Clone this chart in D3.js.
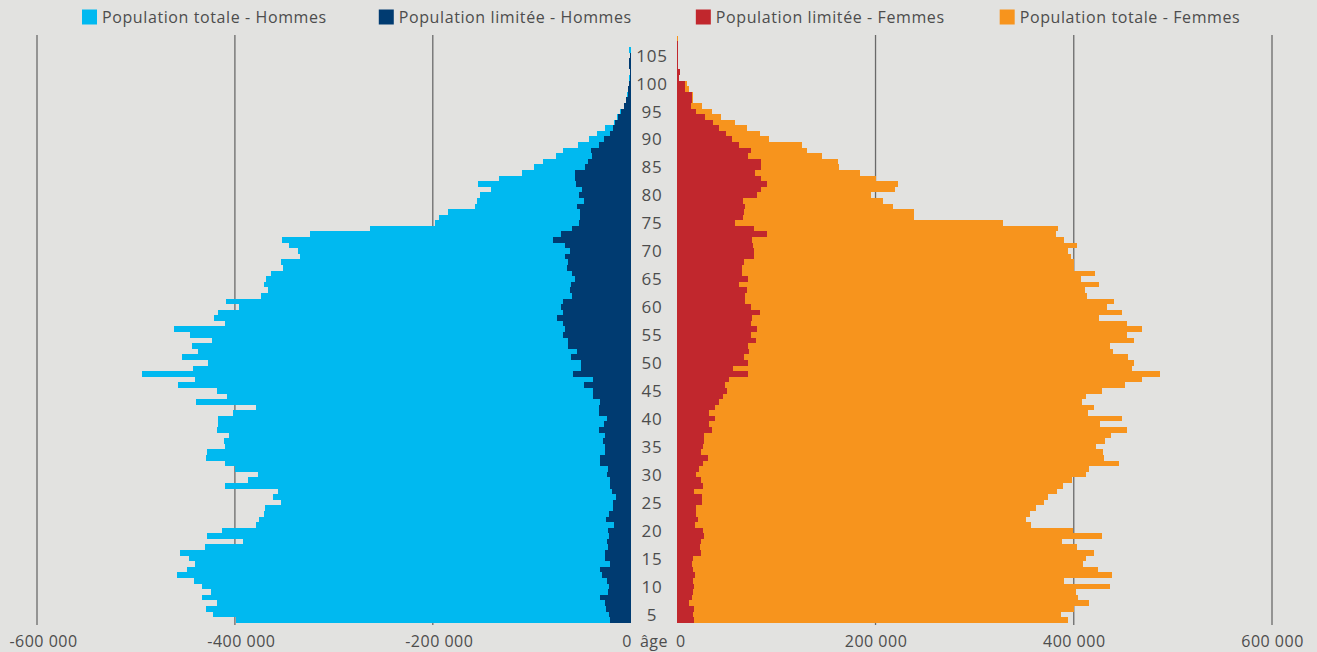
<html>
  <head>
    <title>Pyramide des âges</title>
    <style>
      body { margin: 0; background: #e2e2e0; }
      svg { display: block; }
    </style>
  </head>
  <body>
    <script src="https://cdn.jsdelivr.net/npm/d3@7/dist/d3.min.js"></script>
    <script>
      // Ages (one bar per year)
      var ages = [4, 5, 6, 7, 8, 9, 10, 11, 12, 13, 14, 15, 16, 17, 18, 19, 20, 21, 22, 23, 24, 25, 26, 27, 28, 29,
        30, 31, 32, 33, 34, 35, 36, 37, 38, 39, 40, 41, 42, 43, 44, 45, 46, 47, 48, 49, 50, 51, 52, 53, 54, 55, 56,
        57, 58, 59, 60, 61, 62, 63, 64, 65, 66, 67, 68, 69, 70, 71, 72, 73, 74, 75, 76, 77, 78, 79, 80, 81, 82, 83,
        84, 85, 86, 87, 88, 89, 90, 91, 92, 93, 94, 95, 96, 97, 98, 99, 100, 101, 102, 103, 104, 105, 106, 107, 108];

      // Values in thousands of people
      var totalHommes = [399, 422, 429, 418, 433, 424, 433, 441, 459, 448, 440, 446, 455, 430, 392, 428, 413, 379, 376,
        371, 370, 353, 361, 356, 410, 387, 377, 400, 410, 429, 428, 410, 411, 406, 418, 417, 417, 402, 379, 439, 408,
        418, 457, 440, 494, 442, 427, 453, 437, 443, 423, 445, 462, 410, 421, 417, 396, 409, 374, 367, 371, 369, 364,
        351, 353, 334, 336, 345, 352, 324, 263, 198, 194, 185, 157, 155, 152, 141, 154, 133, 110, 98, 89, 75, 68, 53,
        42, 34, 26, 17, 14, 10.5, 7, 4.5, 3.3, 3, 2.2, 1.5, 1, 1.5, 1.5, 0.6, 1.5, 0, 0];

      var limiteeHommes = [21, 22, 25, 26, 31, 23, 22, 24, 29, 31, 21, 26, 26, 23, 24, 22, 23, 17, 25, 22, 18, 18, 15,
        19, 21, 21, 24, 23, 31, 31, 26, 26, 28, 26, 32, 27, 24, 32, 32, 31, 38, 38, 47, 38, 58, 50, 50, 60, 54, 63, 63,
        68, 66, 68, 74, 68, 70, 68, 59, 61, 60, 56, 59, 64, 63, 66, 61, 66, 79, 70, 59, 52, 51, 51, 54, 47, 52, 49, 55,
        56, 56, 46, 43, 39, 40, 32, 27, 20.5, 18, 16, 12.6, 10, 6.9, 4.3, 3.2, 2.5, 1.5, 1.1, 0.7, 1.4, 1.4, 0.5, 0, 0, 0];

      var limiteeFemmes = [17, 16, 17, 12, 15, 16, 17, 16, 18, 16, 15, 16, 24, 23, 24, 27, 26, 18, 21, 19, 19, 25, 25,
        17, 26, 24, 19, 22, 26, 31, 24, 26, 27, 27, 35, 32, 38, 32, 38, 42, 46, 50, 48, 52, 71, 56, 71, 67, 72, 71, 79,
        74, 80, 74, 75, 83, 74, 68, 68, 70, 62, 71, 65, 65, 67, 77, 77, 76, 75, 90, 77, 58, 66, 67, 68, 66, 80, 84, 90,
        84, 78, 84, 84, 71, 74, 62, 55, 49, 42, 36, 28, 19, 14, 15, 15, 7.8, 7.8, 1.4, 2.7, 0.7, 0.7, 0.5, 0.5, 0.5, 0];

      var totalFemmes = [394, 387, 400, 415, 404, 402, 437, 390, 439, 424, 409, 412, 420, 403, 388, 428, 399, 357, 352,
        356, 362, 370, 374, 383, 389, 398, 412, 415, 446, 430, 429, 422, 432, 438, 454, 426, 449, 414, 420, 408, 412,
        428, 452, 469, 487, 459, 461, 455, 440, 437, 461, 454, 469, 454, 425, 449, 434, 441, 413, 411, 425, 407, 421,
        400, 400, 397, 394, 403, 390, 382, 384, 329, 239, 239, 218, 208, 195, 220, 223, 200, 184, 163, 162, 146, 131,
        126, 93, 83, 70, 58, 44, 35, 25, 15.5, 15.5, 11.8, 9.8, 1.5, 2.8, 0.8, 0.8, 0.8, 0.5, 0.6, 0.8];

      // Axis ticks
      var ageTicks = [5, 10, 15, 20, 25, 30, 35, 40, 45, 50, 55, 60, 65, 70, 75, 80, 85, 90, 95, 100, 105];
      var leftTicks = [-600, -400, -200, 0];
      var rightTicks = [0, 200, 400, 600];

      var legendLabels = [
        'Population totale - Hommes',
        'Population limitée - Hommes',
        'Population limitée - Femmes',
        'Population totale - Femmes'
      ];

      (function() {
        var WIDTH = 1317;
        var HEIGHT = 652;

        // Vertical layout
        var AXIS_Y = 625; // bottom of the grid
        var GRID_TOP = 35;
        var ROW_HEIGHT = 5.589; // px per year

        // Horizontal layout
        var LEFT_MIN = 37, LEFT_ZERO = 630.7;
        var RIGHT_ZERO = 677.3, RIGHT_MAX = 1272;
        var AGE_X = 652;

        var colors = {
          LIGHT_BLUE: '#00b9f0',
          DARK_BLUE: '#003b71',
          RED: '#c1272d',
          ORANGE: '#f7941d',
          GRID: '#6a6a6a',
          TEXT: '#4d4d4d',
          BG: '#e2e2e0'
        };
        var FONT = '"Open Sans", "DejaVu Sans", sans-serif';

        var fr = d3.formatLocale({
          decimal: ',', thousands: ' ', grouping: [3], currency: ['', ' €'], minus: '-'
        });
        var fmt = fr.format(',d');

        var svg = d3.select('body')
          .append('svg')
          .attr('width', WIDTH)
          .attr('height', HEIGHT)
          .style('background', colors.BG);

        // Scales
        var y = d3.scaleLinear()
          .domain([ages[0], ages[ages.length - 1] + 1])
          .range([622.7, 622.7 - ages.length * ROW_HEIGHT]);

        var xLeft = d3.scaleLinear().domain([-600, 0]).range([LEFT_MIN, LEFT_ZERO]);
        var xRight = d3.scaleLinear().domain([0, 600]).range([RIGHT_ZERO, RIGHT_MAX]);

        // Grid lines (behind the bars)
        var grid = svg.append('g').attr('class', 'grid');
        grid.selectAll('line.left')
          .data(leftTicks.filter(function(d) { return d !== 0; }))
          .enter().append('line')
          .attr('class', 'left')
          .attr('x1', function(d) { return xLeft(d); })
          .attr('x2', function(d) { return xLeft(d); })
          .attr('y1', GRID_TOP).attr('y2', AXIS_Y)
          .attr('stroke', colors.GRID)
          .attr('stroke-width', 1.3);
        grid.selectAll('line.right')
          .data(rightTicks.filter(function(d) { return d !== 0; }))
          .enter().append('line')
          .attr('class', 'right')
          .attr('x1', function(d) { return xRight(d); })
          .attr('x2', function(d) { return xRight(d); })
          .attr('y1', GRID_TOP).attr('y2', AXIS_Y)
          .attr('stroke', colors.GRID)
          .attr('stroke-width', 1.3);

        // Bars: totals first, limited population on top
        function leftBars(values, color) {
          svg.append('g')
            .attr('shape-rendering', 'crispEdges')
            .selectAll('rect')
            .data(ages)
            .enter().append('rect')
            .attr('x', function(d, i) { return xLeft(-values[i]); })
            .attr('width', function(d, i) { return xLeft(0) - xLeft(-values[i]); })
            .attr('y', function(d) { return y(d + 1); })
            .attr('height', function(d) { return y(d) - y(d + 1); })
            .attr('fill', color);
        }

        function rightBars(values, color) {
          svg.append('g')
            .attr('shape-rendering', 'crispEdges')
            .selectAll('rect')
            .data(ages)
            .enter().append('rect')
            .attr('x', xRight(0))
            .attr('width', function(d, i) { return xRight(values[i]) - xRight(0); })
            .attr('y', function(d) { return y(d + 1); })
            .attr('height', function(d) { return y(d) - y(d + 1); })
            .attr('fill', color);
        }

        leftBars(totalHommes, colors.LIGHT_BLUE);
        leftBars(limiteeHommes, colors.DARK_BLUE);
        rightBars(totalFemmes, colors.ORANGE);
        rightBars(limiteeFemmes, colors.RED);

        // Bottom axes (labels only)
        function styleAxis(g, size, spacing) {
          g.select('.domain').remove();
          g.selectAll('text')
            .attr('font-family', FONT)
            .attr('font-size', size + 'px')
            .attr('letter-spacing', spacing + 'px')
            .attr('fill', colors.TEXT);
        }

        svg.append('g')
          .attr('transform', 'translate(0,' + AXIS_Y + ')')
          .call(d3.axisBottom(xLeft)
            .tickValues(leftTicks)
            .tickSize(0)
            .tickPadding(11)
            .tickFormat(function(d) { return fmt(d * 1000); }))
          .call(styleAxis, 16, 0.5)
          .selectAll('text')
          .attr('dx', function(d) { return d < 0 ? 6 : -4; });

        svg.append('g')
          .attr('transform', 'translate(0,' + AXIS_Y + ')')
          .call(d3.axisBottom(xRight)
            .tickValues(rightTicks)
            .tickSize(0)
            .tickPadding(11)
            .tickFormat(function(d) { return fmt(d * 1000); }))
          .call(styleAxis, 16, 0.5)
          .selectAll('text')
          .attr('dx', function(d) { return d === 0 ? 3 : 0; });

        // "âge" label between the two zeros
        svg.append('text')
          .text('âge')
          .attr('x', AGE_X + 2)
          .attr('y', AXIS_Y + 11)
          .attr('dy', '0.71em')
          .attr('text-anchor', 'middle')
          .attr('font-family', FONT)
          .attr('font-size', '16px')
          .attr('letter-spacing', '0.5px')
          .attr('fill', colors.TEXT);

        // Age axis in the middle
        svg.append('g')
          .attr('transform', 'translate(' + AGE_X + ',-2.5)')
          .call(d3.axisRight(y).tickValues(ageTicks).tickSize(0).tickPadding(0))
          .call(styleAxis, 17, 0.8)
          .selectAll('text')
          .attr('text-anchor', 'middle');

        // Legend
        var legend = svg.append('g').attr('class', 'legend');
        var legendColors = [colors.LIGHT_BLUE, colors.DARK_BLUE, colors.RED, colors.ORANGE];
        var legendGaps = [52, 64, 55, 0]; // space after each item
        var lx = 82;
        legendLabels.forEach(function(label, i) {
          var item = legend.append('g').attr('transform', 'translate(' + lx + ',0)');
          item.append('rect')
            .attr('x', 0).attr('y', 9.5)
            .attr('width', 15).attr('height', 15)
            .attr('fill', legendColors[i]);
          var t = item.append('text')
            .text(label)
            .attr('x', 20)
            .attr('y', 17)
            .attr('dy', '0.35em')
            .attr('font-family', FONT)
            .attr('font-size', '16px')
            .attr('letter-spacing', '0.6px')
            .attr('fill', colors.TEXT);
          lx += 20 + t.node().getComputedTextLength() + legendGaps[i];
        });
      })();
    </script>
  </body>
</html>
